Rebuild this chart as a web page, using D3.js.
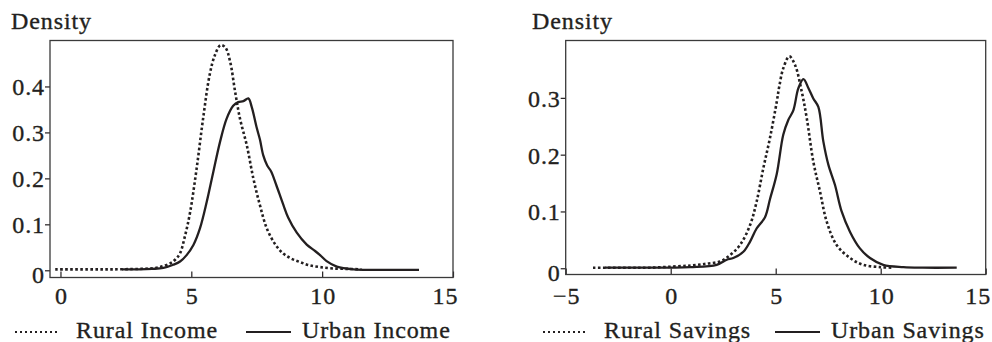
<!DOCTYPE html>
<html>
<head>
<meta charset="utf-8">
<script src="https://cdn.jsdelivr.net/npm/d3@7"></script>
<style>
  body { margin: 0; background: #fff; }
  svg text { font-family: "Liberation Serif", "Times New Roman", serif; font-size: 24px; fill: #231f20; stroke: #231f20; stroke-width: 0.35px; letter-spacing: 0.9px; }
</style>
</head>
<body>
<div id="chart"></div>
<script>
// density curves, [x, density]
var ruralIncome = [[-0.2,0.002],[1,0.002],[2,0.002],[3,0.003],[3.42,0.004],[3.8,0.007],[4.19,0.015],[4.4,0.024],[4.57,0.037],[4.76,0.075],[4.95,0.125],[5.2,0.22],[5.45,0.33],[5.7,0.425],[5.9,0.468],[6.12,0.49],[6.3,0.485],[6.48,0.455],[6.67,0.39],[6.86,0.33],[7.12,0.272],[7.37,0.2],[7.62,0.142],[7.88,0.092],[8.2,0.057],[8.5,0.037],[8.8,0.026],[9.15,0.018],[9.5,0.011],[9.92,0.007],[10.4,0.004],[11,0.003],[11.5,0.002]];
var urbanIncome = [[2.35,0.002],[3,0.002],[3.5,0.003],[3.93,0.005],[4.31,0.012],[4.57,0.019],[4.82,0.033],[5.08,0.055],[5.33,0.091],[5.59,0.149],[5.84,0.214],[6.1,0.28],[6.35,0.33],[6.6,0.358],[6.79,0.366],[6.99,0.368],[7.18,0.374],[7.31,0.355],[7.5,0.31],[7.62,0.285],[7.75,0.25],[7.9,0.228],[8.05,0.215],[8.25,0.185],[8.5,0.145],[8.7,0.115],[9.03,0.082],[9.41,0.056],[9.73,0.042],[9.92,0.033],[10.17,0.02],[10.56,0.008],[11.2,0.002],[12,0.001],[13.7,0.001]];
var ruralSavings = [[-3.7,0.001],[-2,0.001],[-1,0.001],[0.12,0.003],[1,0.005],[1.71,0.008],[2.35,0.012],[2.82,0.023],[3.3,0.041],[3.78,0.076],[4.09,0.117],[4.41,0.176],[4.73,0.23],[5.05,0.293],[5.17,0.32],[5.36,0.352],[5.65,0.373],[5.92,0.358],[6.24,0.311],[6.48,0.264],[6.79,0.188],[7.11,0.135],[7.43,0.082],[7.9,0.041],[8.54,0.018],[9.17,0.006],[9.97,0.002],[10.6,0.001]];
var urbanSavings = [[-3.13,0.001],[-1.5,0.001],[0.92,0.002],[2.19,0.006],[2.67,0.015],[2.98,0.018],[3.46,0.029],[3.78,0.047],[4.09,0.07],[4.49,0.09],[4.73,0.122],[5.05,0.166],[5.36,0.235],[5.6,0.261],[5.84,0.278],[6.08,0.317],[6.32,0.333],[6.56,0.317],[6.79,0.299],[7.03,0.284],[7.27,0.223],[7.51,0.182],[7.82,0.147],[8.14,0.1],[8.54,0.064],[9.01,0.035],[9.49,0.018],[10.12,0.006],[11.08,0.002],[12,0.001],[13.62,0.001]];

// tick values and labels
var incomeXTicks = [0, 5, 10, 15];
var savingsXTicks = [-5, 0, 5, 10, 15];
var incomeYTicks = [0, 0.1, 0.2, 0.3, 0.4];
var savingsYTicks = [0, 0.1, 0.2, 0.3];
var incomeLegend = ["Rural Income", "Urban Income"];
var savingsLegend = ["Rural Savings", "Urban Savings"];

var svgWidth = 992;
var svgHeight = 342;

var svg = d3.select("#chart")
  .append("svg")
  .attr("width", svgWidth)
  .attr("height", svgHeight);

var fmtX = function(d) { return d < 0 ? "\u2212" + Math.abs(d) : String(d); };
var fmtY = function(d) { return d === 0 ? "0" : d3.format(".1f")(d); };

function drawPanel(p) {
  var x = d3.scaleLinear().domain(p.xDomain).range([p.left, p.right]);
  var y = d3.scaleLinear().domain(p.yDomain).range([p.bottom, p.top]);

  // y axis title
  svg.append("text")
    .attr("x", p.titleX)
    .attr("y", 29)
    .text("Density");

  // x axis, ticks pointing into the plot
  var xAxis = svg.append("g")
    .attr("transform", `translate(0, ${p.bottom})`)
    .call(d3.axisBottom(x).tickValues(p.xTicks).tickSize(-6).tickFormat(fmtX));
  xAxis.select(".domain").remove();
  xAxis.selectAll(".tick line").attr("stroke", "#231f20").attr("stroke-width", 1.2);
  xAxis.selectAll(".tick text")
    .attr("fill", null)
    .attr("font-size", null)
    .attr("font-family", null)
    .attr("dy", null)
    .attr("y", 304 - p.bottom)
    .attr("dx", function(d, i) { return i === p.xTicks.length - 1 ? -8 : 0.5; });

  // y axis, ticks pointing out
  var yAxis = svg.append("g")
    .attr("transform", `translate(${p.left}, 0)`)
    .call(d3.axisLeft(y).tickValues(p.yTicks).tickSize(5).tickPadding(1).tickFormat(fmtY));
  yAxis.select(".domain").remove();
  yAxis.selectAll(".tick line").attr("stroke", "#231f20").attr("stroke-width", 1.2);
  yAxis.selectAll(".tick text")
    .attr("fill", null)
    .attr("font-size", null)
    .attr("font-family", null)
    .attr("dy", function(d) { return d === 0 ? 12.5 : 8.5; })
    .attr("dx", 1);

  // frame
  svg.append("rect")
    .attr("x", p.left)
    .attr("y", p.top)
    .attr("width", p.right - p.left)
    .attr("height", p.bottom - p.top)
    .attr("fill", "none")
    .attr("stroke", "#3a3a3a")
    .attr("stroke-width", 1.3);

  var line = d3.line()
    .x(d => x(d[0]))
    .y(d => y(d[1]))
    .curve(d3.curveCatmullRom.alpha(0.5));

  // rural = dotted, urban = solid
  svg.append("path")
    .datum(p.rural)
    .attr("d", line)
    .attr("fill", "none")
    .attr("stroke", "#231f20")
    .attr("stroke-width", 2.6)
    .attr("stroke-dasharray", "2.6,2.4");

  svg.append("path")
    .datum(p.urban)
    .attr("d", line)
    .attr("fill", "none")
    .attr("stroke", "#231f20")
    .attr("stroke-width", 2.3)
    .attr("stroke-linejoin", "round");

  // legend
  var lg = svg.append("g");
  lg.append("line")
    .attr("x1", p.legendX[0]).attr("x2", p.legendX[0] + 45)
    .attr("y1", 332).attr("y2", 332)
    .attr("stroke", "#231f20")
    .attr("stroke-width", 2)
    .attr("stroke-dasharray", "2,3");
  lg.append("text")
    .attr("x", p.legendX[0] + 61)
    .attr("y", 338)
    .text(p.legend[0]);
  lg.append("line")
    .attr("x1", p.legendX[1]).attr("x2", p.legendX[1] + 45)
    .attr("y1", 332).attr("y2", 332)
    .attr("stroke", "#231f20")
    .attr("stroke-width", 2.2);
  lg.append("text")
    .attr("x", p.legendX[1] + 56)
    .attr("y", 338)
    .text(p.legend[1]);
}

drawPanel({
  left: 50, right: 453, top: 40.5, bottom: 277.5,
  xDomain: [-0.4, 15], yDomain: [-0.0157, 0.5],
  xTicks: incomeXTicks, yTicks: incomeYTicks,
  rural: ruralIncome, urban: urbanIncome,
  legend: incomeLegend, legendX: [15, 246],
  titleX: 11
});

drawPanel({
  left: 565.7, right: 985.7, top: 40.5, bottom: 274.5,
  xDomain: [-5, 15], yDomain: [-0.011, 0.401],
  xTicks: savingsXTicks, yTicks: savingsYTicks,
  rural: ruralSavings, urban: urbanSavings,
  legend: savingsLegend, legendX: [543, 775],
  titleX: 532
});
</script>
</body>
</html>
